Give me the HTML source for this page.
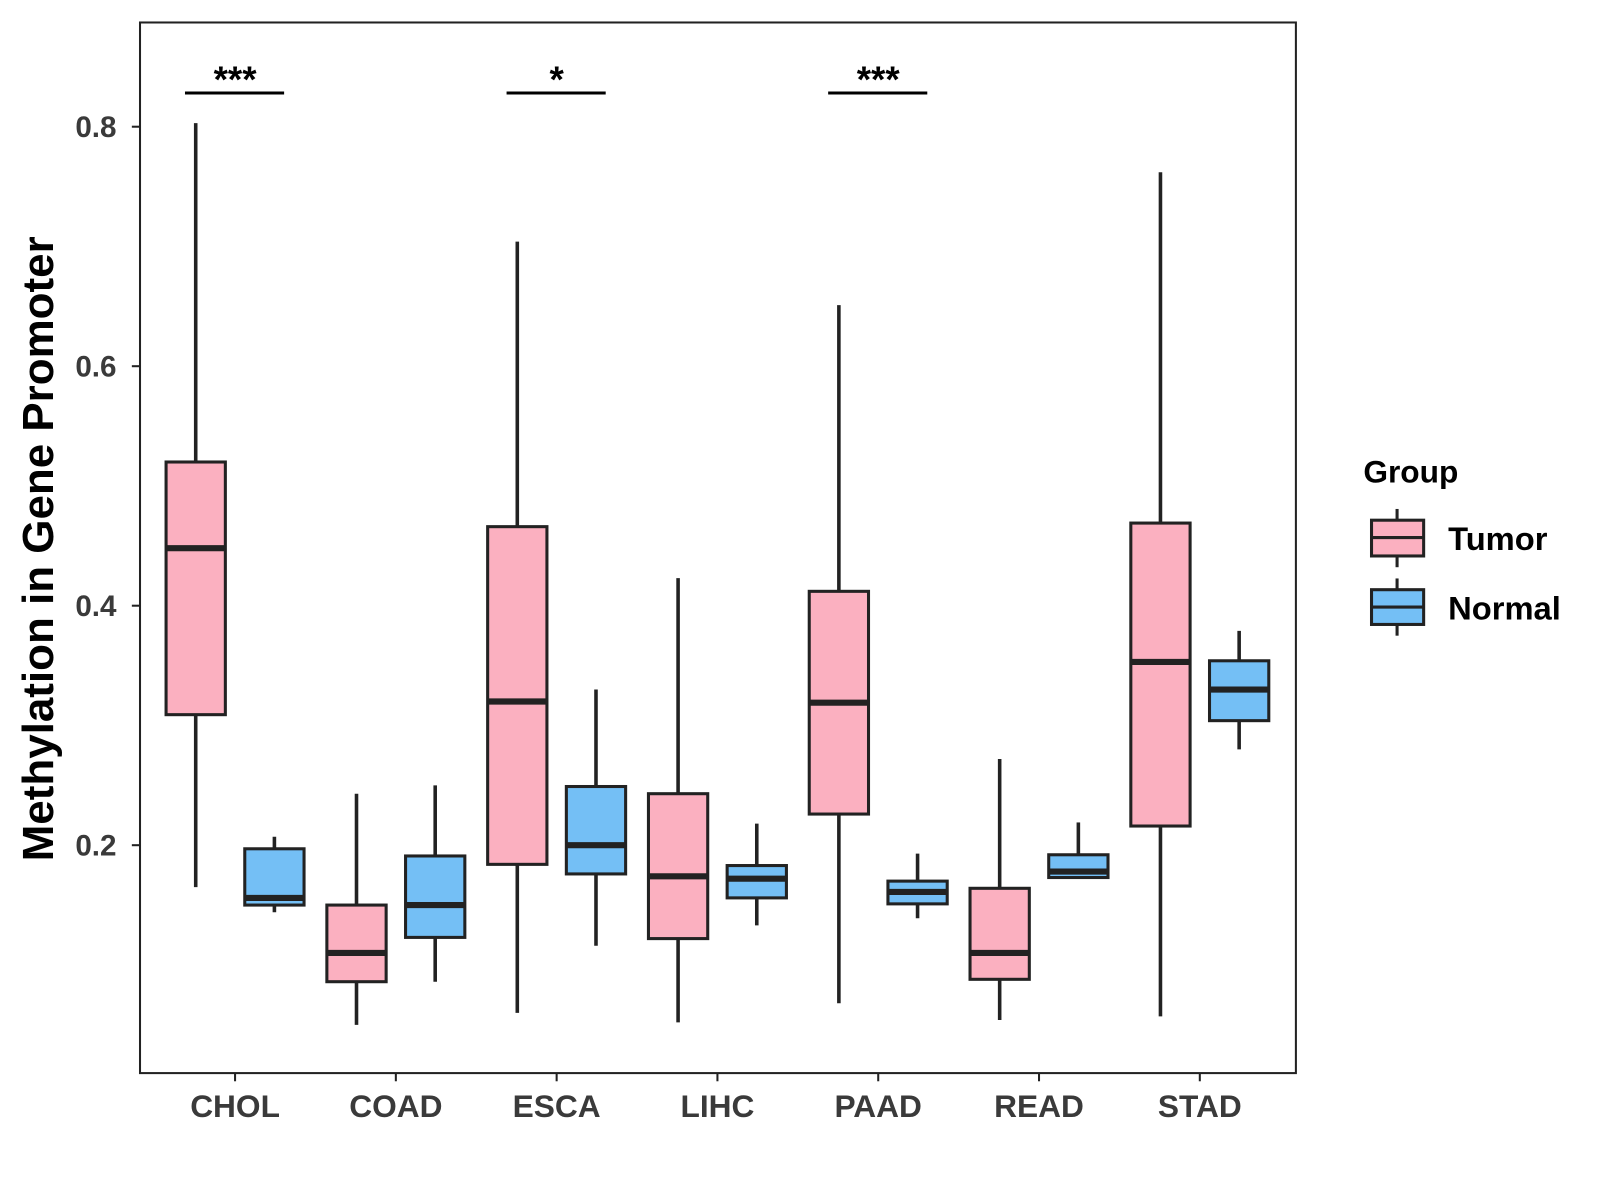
<!DOCTYPE html>
<html><head><meta charset="utf-8"><style>
html,body{margin:0;padding:0;background:#fff;}
svg{display:block;font-family:"Liberation Sans",Arial,sans-serif;font-weight:bold;}
</style></head><body>
<svg id="chart" width="1600" height="1200" viewBox="0 0 1600 1200">
<g transform="scale(1.022)">
<rect x="137" y="22" width="1131" height="1028" fill="#fff" stroke="#222" stroke-width="2"/>
<g id="ticks"></g>
<g id="boxes"></g>
<g id="sig"></g>
<text transform="translate(52,537) rotate(-90)" text-anchor="middle" font-size="43" fill="#000">Methylation in Gene Promoter</text>
<g>
<text x="1334" y="472" font-size="31" fill="#000">Group</text>
<g>
<line x1="1367" y1="498" x2="1367" y2="555" stroke="#222" stroke-width="3"/>
<rect x="1342" y="509" width="51" height="35" fill="#FBB0C0" stroke="#222" stroke-width="3"/>
<line x1="1342" y1="526" x2="1393" y2="526" stroke="#222" stroke-width="3"/>
<text x="1417" y="538" font-size="32" fill="#000">Tumor</text></g>
<g>
<line x1="1367" y1="566" x2="1367" y2="622" stroke="#222" stroke-width="3"/>
<rect x="1342" y="577" width="51" height="34" fill="#74BFF5" stroke="#222" stroke-width="3"/>
<line x1="1342" y1="594" x2="1393" y2="594" stroke="#222" stroke-width="3"/>
<text x="1417" y="606" font-size="32" fill="#000">Normal</text></g>
</g>
</g>
</svg>
<script>
const categories=["CHOL","COAD","ESCA","LIHC","PAAD","READ","STAD"];
const tumorMin=[0.165,0.050,0.060,0.052,0.068,0.054,0.057];
const tumorQ1=[0.309,0.086,0.184,0.122,0.226,0.088,0.216];
const tumorMed=[0.448,0.110,0.320,0.174,0.319,0.110,0.353];
const tumorQ3=[0.520,0.150,0.466,0.243,0.412,0.164,0.469];
const tumorMax=[0.803,0.243,0.704,0.423,0.651,0.272,0.762];
const normalMin=[0.144,0.086,0.116,0.133,0.139,0.173,0.280];
const normalQ1=[0.150,0.123,0.176,0.156,0.151,0.173,0.304];
const normalMed=[0.156,0.150,0.200,0.172,0.161,0.178,0.330];
const normalQ3=[0.197,0.191,0.249,0.183,0.170,0.192,0.354];
const normalMax=[0.207,0.250,0.330,0.218,0.193,0.219,0.379];
const yTicks=[0.2,0.4,0.6,0.8];
const sigLabels=["***","","*","","***","",""];
const NS="http://www.w3.org/2000/svg";
function yS(v){return 827-(v-0.2)*1171.7;}
function xS(i){return 230+i*157.33;}
function mk(tag,attrs,parent,txt){const e=document.createElementNS(NS,tag);for(const k in attrs)e.setAttribute(k,attrs[k]);if(txt!==undefined)e.textContent=txt;parent.appendChild(e);return e;}
const tk=document.getElementById('ticks');
yTicks.forEach(v=>{const y=yS(v);
const l=mk('line',{x1:129,x2:137,y1:y,y2:y,stroke:'#222','stroke-width':2},tk);

const t=mk('text',{x:114,y:y+10,'text-anchor':'end','font-size':29,fill:'#3a3a3a'},tk,v.toFixed(1));
});
categories.forEach((c,i)=>{const x=xS(i);
const l=mk('line',{x1:x,x2:x,y1:1050,y2:1058,stroke:'#222','stroke-width':2},tk);

const t=mk('text',{x:x,y:1093,'text-anchor':'middle','font-size':31,fill:'#3a3a3a'},tk,c);
});
const bx=document.getElementById('boxes');
function box(cx,mn,q1,md,q3,mx,fill,name){
const g=mk('g',{},bx);


mk('line',{x1:cx,x2:cx,y1:yS(mx),y2:yS(mn),stroke:'#222','stroke-width':3.5},g);
mk('rect',{x:cx-29,y:yS(q3),width:58,height:yS(q1)-yS(q3),fill:fill,stroke:'#222','stroke-width':3},g);
mk('line',{x1:cx-29,x2:cx+29,y1:yS(md),y2:yS(md),stroke:'#222','stroke-width':6},g);}
categories.forEach((c,i)=>{
box(xS(i)-38.5,tumorMin[i],tumorQ1[i],tumorMed[i],tumorQ3[i],tumorMax[i],'#FBB0C0','box-tumor-'+c.toLowerCase());
box(xS(i)+38.5,normalMin[i],normalQ1[i],normalMed[i],normalQ3[i],normalMax[i],'#74BFF5','box-normal-'+c.toLowerCase());});
const sg=document.getElementById('sig');
sigLabels.forEach((s,i)=>{if(!s)return;const x=xS(i);
const l=mk('line',{x1:x-49,x2:x+48,y1:91,y2:91,stroke:'#000','stroke-width':3},sg);

const t=mk('text',{x:x,y:90,'text-anchor':'middle','font-size':36,fill:'#000'},sg,s);
});
</script>
</body></html>
